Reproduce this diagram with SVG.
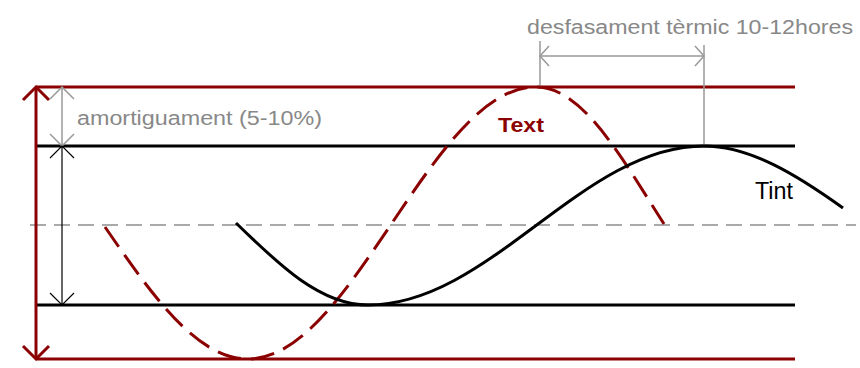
<svg xmlns="http://www.w3.org/2000/svg" width="860" height="368" viewBox="0 0 860 368">
<style>
.red{stroke:#8b0000;stroke-width:3;fill:none}
.blk{stroke:#000;stroke-width:3;fill:none}
.gdim{stroke:#999;stroke-width:1.5;fill:none}
.bdim{stroke:#000;stroke-width:1.2;fill:none}
.gtxt{font-family:"Liberation Sans",Arial,sans-serif;fill:#888;font-size:20px}
</style>
<rect width="860" height="368" fill="#fff"/>
<g id="center-line">
<line x1="30" y1="225" x2="856" y2="225" stroke="#aaa" stroke-width="2" stroke-dasharray="16,8"/>
</g>
<g id="limits">
<line class="red" x1="36" y1="87" x2="795" y2="87"/>
<line class="red" x1="36" y1="359" x2="795" y2="359"/>
<line class="blk" x1="36" y1="146" x2="795" y2="146"/>
<line class="blk" x1="36" y1="305" x2="795" y2="305"/>
</g>
<g id="connectors">
<line class="red" x1="36" y1="87" x2="36" y2="359"/>
<polyline class="red" points="23,100 36,87 49,100"/>
<polyline class="red" points="23,346 36,359 49,346"/>
<line class="gdim" x1="62" y1="87" x2="62" y2="146"/>
<polyline class="gdim" points="50,99 62,87 74,99"/>
<polyline class="gdim" points="50,134 62,146 74,134"/>
<line class="bdim" x1="62" y1="146" x2="62" y2="305"/>
<polyline class="bdim" points="50,158 62,146 74,158"/>
<polyline class="bdim" points="50,293 62,305 74,293"/>
<line class="gdim" x1="540" y1="41" x2="540" y2="87"/>
<line class="gdim" x1="704" y1="45" x2="704" y2="146"/>
<line class="gdim" x1="540" y1="56" x2="704" y2="56"/>
<polyline class="gdim" points="549,46 540,56 549,66"/>
<polyline class="gdim" points="695,46 704,56 695,66"/>
</g>
<g id="curve-text">
<path class="red" stroke-dasharray="24,10" d="M105,227 C151.5,294.4 196.5,359 248,359 C299.8,359 345.2,292.5 392,223 C438.8,153.5 484.2,87 536,87 C582.1,87 619.4,154 664,224"/>
</g>
<g id="curve-tint">
<path class="blk" d="M236,223 C278.9,264.9 320.5,305 368,305 C428.5,305 481.4,266.1 536,225.5 C590.6,184.9 643.5,146 704,146 C750,146 797,175 843,208"/>
</g>
<g id="labels">
<text class="gtxt" x="77" y="125" textLength="245" lengthAdjust="spacingAndGlyphs">amortiguament (5-10%)</text>
<text class="gtxt" x="527" y="34" font-size="21" textLength="326" lengthAdjust="spacingAndGlyphs">desfasament tèrmic 10-12hores</text>
<text x="498" y="132" font-family="Liberation Sans,Arial,sans-serif" font-weight="bold" font-size="20" fill="#8b0000" textLength="46" lengthAdjust="spacingAndGlyphs">Text</text>
<text x="755" y="199" font-family="Liberation Sans,Arial,sans-serif" font-size="23" fill="#000" textLength="38" lengthAdjust="spacingAndGlyphs">Tint</text>
</g>
</svg>
